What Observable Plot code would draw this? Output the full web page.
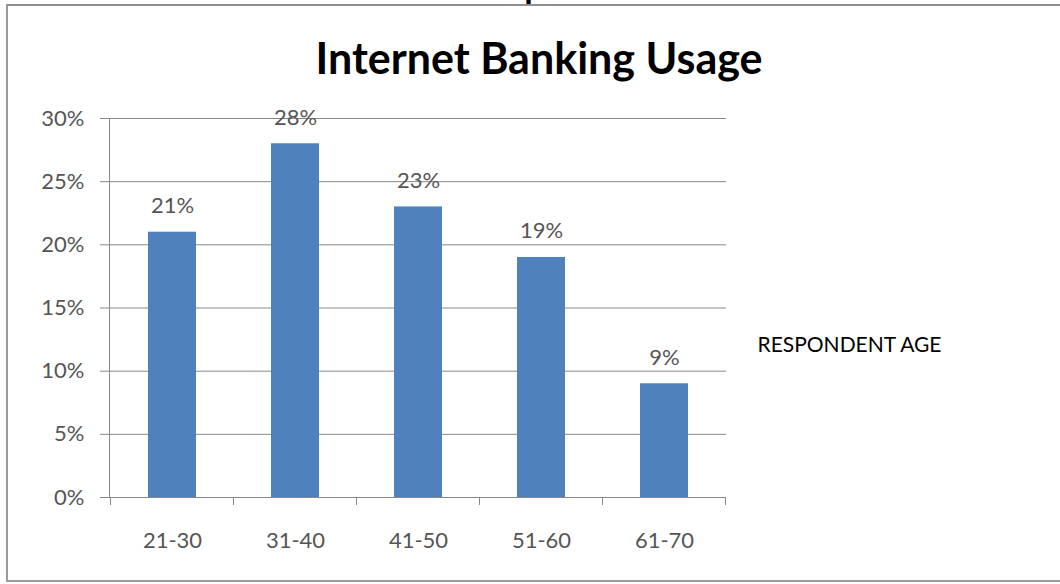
<!DOCTYPE html>
<html>
<head>
<meta charset="utf-8">
<script src="https://cdn.jsdelivr.net/npm/d3@7"></script>
<script src="https://cdn.jsdelivr.net/npm/@observablehq/plot@0.6"></script>
<style>
  html, body { margin: 0; padding: 0; background: #fff; }
  #wrap { position: relative; width: 1060px; height: 584px; overflow: hidden; }
  #frame { position: absolute; left: 6px; top: 4px; width: 1060px; height: 574px;
           border-left: 2px solid #9a9a9a; border-top: 2px solid #8f8f8f; border-bottom: 2px solid #9a9a9a;
           pointer-events: none; }
  svg { display: block; }
</style>
</head>
<body>
<div id="wrap"><div id="frame"></div></div>
<script>
const categories = ["21-30", "31-40", "41-50", "51-60", "61-70"];
const usage = [21, 28, 23, 19, 9];
const yTicks = [0, 5, 10, 15, 20, 25, 30];
const chartTitle = "Internet Banking Usage";
const sideLabel = "RESPONDENT AGE";

const data = categories.map((c, i) => ({age: c, value: usage[i]}));

const W = 1060, H = 584;
const mL = 109, mR = 334, mT = 118, mB = 87;
const font = "Lato, 'Open Sans', sans-serif";
const gray = "#888888";
const labelColor = "#555555";

const plot = Plot.plot({
  width: W,
  height: H,
  marginLeft: mL,
  marginRight: mR,
  marginTop: mT,
  marginBottom: mB,
  style: {fontFamily: font, background: "transparent", overflow: "visible"},
  x: {domain: categories, paddingInner: 0.61, paddingOuter: 0.305, label: null},
  y: {domain: [0, 30], ticks: yTicks, label: null},
  marks: [
    Plot.gridY(yTicks, {stroke: gray, strokeOpacity: 1, strokeWidth: 1}),
    Plot.frame({anchor: "left", stroke: gray, strokeWidth: 1}),
    Plot.barY(data, {x: "age", y: "value", fill: "#4f81bd"}),
    Plot.ruleY([0], {stroke: gray, strokeWidth: 1}),
    Plot.text(data, {x: "age", y: "value", text: d => d.value + "%", dy: -19, lineAnchor: "bottom",
      fontSize: 22, fill: labelColor}),
    Plot.axisY({ticks: yTicks, tickFormat: d => d + "%", tickSize: 9, tickPadding: 16,
      fontSize: 22, color: labelColor, stroke: gray}),
    Plot.axisX({tickSize: 0, tickPadding: 35, fontSize: 22, color: labelColor}),
    Plot.text([chartTitle], {frameAnchor: "top-left", dx: 538.5 - mL, dy: 73 - mT, lineAnchor: "bottom",
      textAnchor: "middle", fontSize: 43, fontWeight: "bold", fill: "#000"}),
    Plot.text([sideLabel], {frameAnchor: "top-left", dx: 757 - mL, dy: 351 - mT, lineAnchor: "bottom",
      textAnchor: "start", fontSize: 21, fill: "#000"}),
    Plot.text(["p"], {frameAnchor: "top-left", dx: 524 - mL, dy: -1 - mT, lineAnchor: "bottom",
      textAnchor: "start", fontSize: 30, fontWeight: "bold", fontFamily: "'Liberation Serif', serif", fill: "#000"})
  ]
});

// boundary tick marks below the category axis, from Plot's own x scale
const xs = plot.scale("x");
const ys = plot.scale("y");
const gap = (xs.step - xs.bandwidth) / 2;
const bounds = categories.map(c => xs.apply(c) - gap);
bounds.push(xs.apply(categories[categories.length - 1]) + xs.bandwidth + gap);
const y0 = ys.apply(0);
d3.select(plot).append("g")
  .attr("stroke", gray)
  .selectAll("line")
  .data(bounds)
  .join("line")
  .attr("x1", d => d).attr("x2", d => d)
  .attr("y1", y0).attr("y2", y0 + 8);

document.getElementById("wrap").prepend(plot);
</script>
</body>
</html>
